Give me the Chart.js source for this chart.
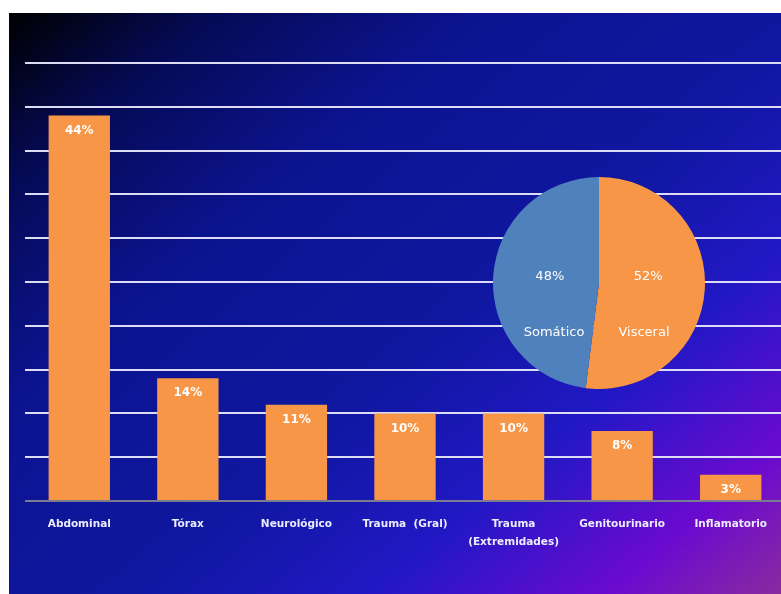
<!DOCTYPE html>
<html>
<head>
<meta charset="utf-8">
<script src="https://cdn.jsdelivr.net/npm/chart.js@4.4.0/dist/chart.umd.min.js"></script>
<style>
  html, body { margin: 0; padding: 0; background: #fff; overflow: hidden; }
  body { width: 781px; height: 594px; position: relative; }
  #bg {
    position: absolute; left: 9px; top: 13px; width: 772px; height: 581px; overflow: hidden;
    background: linear-gradient(140deg, #000000 0%, #050a55 14%, #0c1390 32%, #0f17a0 55%, #2118c4 72%, #6a0ad0 88%, #8a2a9e 100%);
  }
  #barWrap { position: absolute; left: 0; top: 0; width: 776px; height: 581px; }
  #pieWrap { position: absolute; left: 482px; top: 162px; width: 216px; height: 216px; }
</style>
</head>
<body>
<div id="bg">
  <div id="barWrap"><canvas id="bars"></canvas></div>
  <div id="pieWrap"><canvas id="pie"></canvas></div>
</div>
<script>
var categories = ["Abdominal", "Tórax", "Neurológico", "Trauma  (Gral)", ["Trauma", "(Extremidades)"], "Genitourinario", "Inflamatorio"];
var percents = [44, 14, 11, 10, 10, 8, 3];
var pieLabels = ["Visceral", "Somático"];
var pieValues = [52, 48];

var labelFont = "'DejaVu Sans', sans-serif";

var barValueLabels = {
  id: 'barValueLabels',
  afterDatasetsDraw: function(chart) {
    var ctx = chart.ctx;
    var meta = chart.getDatasetMeta(0);
    ctx.save();
    ctx.fillStyle = '#ffffff';
    ctx.font = 'bold 12px ' + labelFont;
    ctx.textAlign = 'center';
    ctx.textBaseline = 'middle';
    meta.data.forEach(function(bar, i) {
      ctx.fillText(percents[i] + '%', bar.x, bar.y + 15);
    });
    ctx.restore();
  }
};

new Chart(document.getElementById("bars"), {
  type: 'bar',
  data: {
    labels: categories,
    datasets: [
      {
        label: "percent",
        backgroundColor: "#F79646",
        borderWidth: 0,
        data: percents,
        barPercentage: 0.565,
        categoryPercentage: 1
      }
    ]
  },
  plugins: [barValueLabels],
  options: {
    responsive: true,
    maintainAspectRatio: false,
    animation: false,
    layout: { padding: { left: 16, right: 0, top: 50, bottom: 0 } },
    plugins: { legend: { display: false }, tooltip: { enabled: false } },
    scales: {
      x: {
        grid: { display: false },
        border: { display: false },
        ticks: {
          color: '#ececff',
          font: { family: labelFont, size: 10.5, weight: 'bold', lineHeight: 1.75 },
          padding: 6,
          maxRotation: 0,
          autoSkip: false
        },
        afterFit: function(s) { s.height = 93; }
      },
      y: {
        min: 0,
        max: 50,
        ticks: { display: false, stepSize: 5 },
        border: { display: false },
        grid: {
          drawTicks: false,
          lineWidth: 2,
          color: function(c) { return c.tick.value === 0 ? '#7c7c90' : '#dcdcf4'; }
        },
        afterFit: function(s) { s.width = 0; }
      }
    }
  }
});

var pieSliceLabels = {
  id: 'pieSliceLabels',
  afterDatasetsDraw: function(chart) {
    var ctx = chart.ctx;
    var meta = chart.getDatasetMeta(0);
    ctx.save();
    ctx.fillStyle = '#ffffff';
    ctx.font = '13px ' + labelFont;
    ctx.textAlign = 'center';
    ctx.textBaseline = 'middle';
    meta.data.forEach(function(arc, i) {
      var p = arc.tooltipPosition();
      var cx = arc.x, cy = arc.y;
      ctx.fillText(pieValues[i] + '%', cx + (p.x - cx) * 0.93, cy - 6);
      ctx.fillText(pieLabels[i], cx + (p.x - cx) * 0.85, cy + 50);
    });
    ctx.restore();
  }
};

new Chart(document.getElementById("pie"), {
  type: 'pie',
  data: {
    labels: pieLabels,
    datasets: [
      {
        backgroundColor: ["#F79646", "#4F81BD"],
        borderWidth: 0,
        data: pieValues
      }
    ]
  },
  plugins: [pieSliceLabels],
  options: {
    responsive: true,
    maintainAspectRatio: false,
    animation: false,
    layout: { padding: 2 },
    plugins: { legend: { display: false }, tooltip: { enabled: false } }
  }
});
</script>
</body>
</html>
